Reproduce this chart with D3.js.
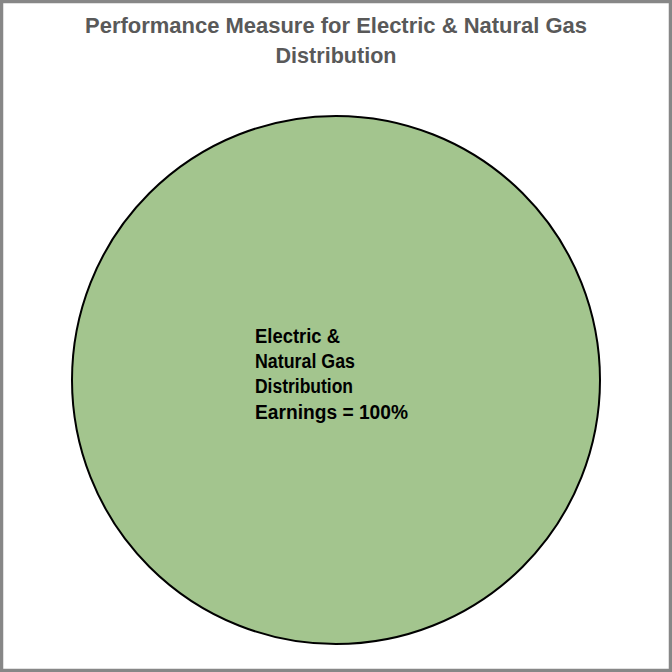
<!DOCTYPE html>
<html>
<head>
<meta charset="utf-8">
<script src="https://cdn.jsdelivr.net/npm/d3@7"></script>
<style>
  html, body { margin: 0; padding: 0; background: #fff; }
  svg { display: block; }
</style>
</head>
<body>
<div id="chart"></div>
<script>
const categories = ["Electric & Natural Gas Distribution Earnings"];
const values = [100];
const labelLines = ["Electric &", "Natural Gas", "Distribution", "Earnings = 100%"];
const labelWidths = [85, 100, 98, 153];
const titleLines = ["Performance Measure for Electric & Natural Gas", "Distribution"];
const titleWidths = [502, 121];

const width = 672;
const height = 672;
const cx = 336, cy = 380, radius = 264;
const font = "'Liberation Sans', Arial, sans-serif";

const svg = d3.select("#chart")
    .append("svg")
    .attr("width", width)
    .attr("height", height)
    .style("font-family", font);

svg.append("rect")
    .attr("x", 1.5)
    .attr("y", 1.5)
    .attr("width", width - 3)
    .attr("height", height - 3)
    .attr("fill", "#fff")
    .attr("stroke", "#878787")
    .attr("stroke-width", 3.5);

svg.selectAll(".title")
    .data(titleLines)
    .enter()
    .append("text")
    .attr("class", "title")
    .attr("x", (d, i) => width / 2 - titleWidths[i] / 2)
    .attr("y", (d, i) => 32.7 + i * 30)
    .attr("font-size", "21.5px")
    .attr("font-weight", "bold")
    .attr("fill", "#595959")
    .attr("textLength", (d, i) => titleWidths[i])
    .attr("lengthAdjust", "spacingAndGlyphs")
    .text(d => d);

const pie = d3.pie().sort(null).value(d => d);
const arc = d3.arc().innerRadius(0).outerRadius(radius);

const g = svg.append("g")
    .attr("transform", `translate(${cx},${cy})`);

g.selectAll("path")
    .data(pie(values))
    .enter()
    .append("path")
    .attr("d", arc)
    .attr("fill", "#a3c58e")
    .attr("stroke", "#000")
    .attr("stroke-width", 2);

g.selectAll(".label")
    .data(labelLines)
    .enter()
    .append("text")
    .attr("class", "label")
    .attr("x", -81)
    .attr("y", (d, i) => -37.5 + i * 25.4)
    .attr("font-size", "19.5px")
    .attr("font-weight", "bold")
    .attr("fill", "#000")
    .attr("textLength", (d, i) => labelWidths[i])
    .attr("lengthAdjust", "spacingAndGlyphs")
    .text(d => d);
</script>
</body>
</html>
